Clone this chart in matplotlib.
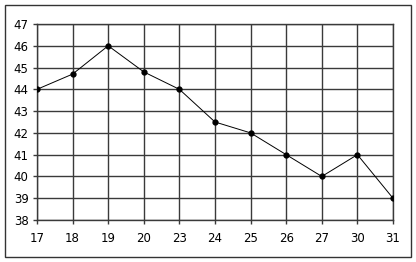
import matplotlib
matplotlib.use('Agg')
import matplotlib.pyplot as plt
from matplotlib.patches import Rectangle

# Chart data
days = ['17', '18', '19', '20', '23', '24', '25', '26', '27', '30', '31']
values = [44, 44.7, 46, 44.8, 44, 42.5, 42, 41, 40, 41, 39]

GRID_COLOR = '#3a3a3a'

fig = plt.figure(figsize=(4.16, 2.62), dpi=100)
ax = fig.add_axes([37 / 416, 1 - 220 / 262, 356 / 416, 196 / 262])

x = list(range(len(days)))
ax.plot(x, values, color='black', linewidth=0.7, marker='o', markersize=3.5,
        markerfacecolor='black', markeredgecolor='black', zorder=3)

ax.set_xlim(0, len(days) - 1)
ax.set_ylim(38, 47)
ax.set_xticks(x)
ax.set_xticklabels(days)
ax.set_yticks(range(38, 48))

ax.grid(True, color=GRID_COLOR, linewidth=1.0)
for spine in ax.spines.values():
    spine.set_color(GRID_COLOR)
    spine.set_linewidth(1.0)

ax.tick_params(axis='both', labelsize=8.5, color=GRID_COLOR, length=3, width=1.0)
ax.tick_params(axis='x', pad=6)
ax.tick_params(axis='y', pad=3)

# Border around the whole chart
fig.patches.append(Rectangle((5 / 416, 1 - 257 / 262), 406 / 416, 252 / 262,
                             transform=fig.transFigure, fill=False,
                             edgecolor='#333333', linewidth=1.0))

plt.savefig('out.png', dpi=100)
plt.close()
